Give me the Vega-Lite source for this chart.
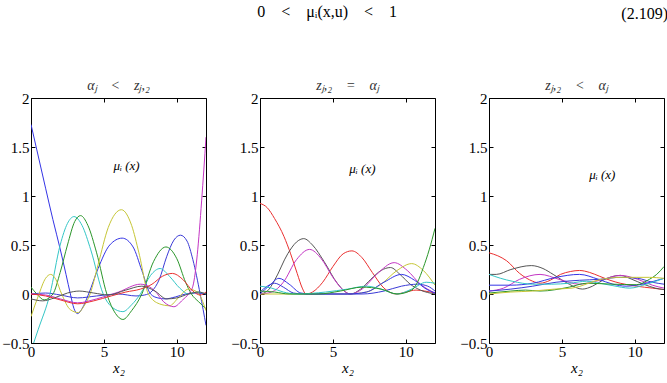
{
  "$schema": "https://vega.github.io/schema/vega-lite/v6.json",
  "background": "white",
  "padding": {"left": 1, "top": 3, "right": 1, "bottom": 2},
  "config": {
    "font": "Liberation Serif",
    "view": {"stroke": "#000", "strokeWidth": 1},
    "axis": {
      "domain": false, "grid": false, "tickSize": -4, "tickColor": "#000", "tickWidth": 1,
      "labelFont": "Liberation Serif", "labelFontSize": 15, "labelColor": "#000",
      "labelFlush": false, "labelOverlap": false, "labelPadding": 6,
      "titleFont": "Liberation Serif", "titleFontSize": 15, "titleFontStyle": "italic",
      "titleFontWeight": "normal", "titleColor": "#000", "titlePadding": 1
    },
    "axisX": {"labelPadding": 5},
    "title": {"font": "Liberation Serif", "fontSize": 14, "fontWeight": "normal", "fontStyle": "italic", "color": "#333", "offset": -2}
  },
  "datasets": {
    "p1": [
      {"c":"b","x":0,"y":1.73},{"c":"b","x":0.4,"y":1.47},{"c":"b","x":1,"y":1.08},{"c":"b","x":1.5,"y":0.76},{"c":"b","x":2,"y":0.46},{"c":"b","x":2.4,"y":0.2},{"c":"b","x":2.7,"y":0.0},{"c":"b","x":2.95,"y":-0.15},{"c":"b","x":3.2,"y":-0.2},{"c":"b","x":3.5,"y":-0.15},{"c":"b","x":3.95,"y":0.0},{"c":"b","x":4.6,"y":0.26},{"c":"b","x":5.4,"y":0.5},{"c":"b","x":6.25,"y":0.57},{"c":"b","x":7.0,"y":0.48},{"c":"b","x":7.6,"y":0.24},{"c":"b","x":8.2,"y":0.0},{"c":"b","x":8.7,"y":-0.04},{"c":"b","x":9.2,"y":-0.05},{"c":"b","x":9.9,"y":-0.03},{"c":"b","x":10.6,"y":0.0},{"c":"b","x":11.3,"y":0.01},{"c":"b","x":12,"y":0.0},
      {"c":"b2","x":0,"y":0.0},{"c":"b2","x":1,"y":0.01},{"c":"b2","x":2,"y":-0.01},{"c":"b2","x":3.2,"y":-0.04},{"c":"b2","x":4.5,"y":-0.02},{"c":"b2","x":6,"y":0.0},{"c":"b2","x":7.2,"y":-0.02},{"c":"b2","x":7.8,"y":-0.01},{"c":"b2","x":8.3,"y":0.03},{"c":"b2","x":8.8,"y":0.15},{"c":"b2","x":9.3,"y":0.38},{"c":"b2","x":9.8,"y":0.55},{"c":"b2","x":10.25,"y":0.6},{"c":"b2","x":10.7,"y":0.54},{"c":"b2","x":11.1,"y":0.35},{"c":"b2","x":11.6,"y":0.0},{"c":"b2","x":12,"y":-0.32},
      {"c":"c","x":0,"y":-0.58},{"c":"c","x":0.5,"y":-0.36},{"c":"c","x":1.3,"y":0.0},{"c":"c","x":2.0,"y":0.5},{"c":"c","x":2.5,"y":0.72},{"c":"c","x":2.95,"y":0.79},{"c":"c","x":3.5,"y":0.7},{"c":"c","x":4.1,"y":0.45},{"c":"c","x":4.95,"y":0.0},{"c":"c","x":5.6,"y":-0.14},{"c":"c","x":6.3,"y":-0.18},{"c":"c","x":6.9,"y":-0.11},{"c":"c","x":7.5,"y":0.0},{"c":"c","x":8.2,"y":0.19},{"c":"c","x":8.85,"y":0.26},{"c":"c","x":9.5,"y":0.18},{"c":"c","x":10.2,"y":0.06},{"c":"c","x":10.8,"y":0.0},{"c":"c","x":11.4,"y":0.02},{"c":"c","x":12,"y":0.0},
      {"c":"g","x":0,"y":0.07},{"c":"g","x":0.4,"y":0.0},{"c":"g","x":0.9,"y":-0.06},{"c":"g","x":1.5,"y":0.0},{"c":"g","x":2.0,"y":0.22},{"c":"g","x":2.5,"y":0.5},{"c":"g","x":3.0,"y":0.74},{"c":"g","x":3.4,"y":0.8},{"c":"g","x":3.9,"y":0.7},{"c":"g","x":4.5,"y":0.42},{"c":"g","x":5.2,"y":0.0},{"c":"g","x":5.8,"y":-0.2},{"c":"g","x":6.3,"y":-0.26},{"c":"g","x":6.9,"y":-0.17},{"c":"g","x":7.6,"y":0.0},{"c":"g","x":8.4,"y":0.33},{"c":"g","x":9.25,"y":0.48},{"c":"g","x":10.0,"y":0.36},{"c":"g","x":10.6,"y":0.12},{"c":"g","x":11.0,"y":0.0},{"c":"g","x":11.5,"y":-0.08},{"c":"g","x":12,"y":-0.15},
      {"c":"y","x":0,"y":-0.23},{"c":"y","x":0.5,"y":-0.02},{"c":"y","x":1.0,"y":0.16},{"c":"y","x":1.35,"y":0.2},{"c":"y","x":1.7,"y":0.15},{"c":"y","x":2.1,"y":0.0},{"c":"y","x":2.7,"y":-0.16},{"c":"y","x":3.25,"y":-0.19},{"c":"y","x":3.6,"y":-0.13},{"c":"y","x":4.05,"y":0.0},{"c":"y","x":4.6,"y":0.3},{"c":"y","x":5.3,"y":0.68},{"c":"y","x":6.2,"y":0.86},{"c":"y","x":6.9,"y":0.7},{"c":"y","x":7.4,"y":0.42},{"c":"y","x":8.05,"y":0.0},{"c":"y","x":8.8,"y":-0.1},{"c":"y","x":9.5,"y":-0.12},{"c":"y","x":10.1,"y":-0.04},{"c":"y","x":10.8,"y":0.05},{"c":"y","x":11.4,"y":0.02},{"c":"y","x":12,"y":-0.17},
      {"c":"m","x":0,"y":0.0},{"c":"m","x":1,"y":-0.01},{"c":"m","x":2,"y":-0.05},{"c":"m","x":3.2,"y":-0.09},{"c":"m","x":4.5,"y":-0.05},{"c":"m","x":6,"y":0.02},{"c":"m","x":7.5,"y":0.1},{"c":"m","x":8.5,"y":0.03},{"c":"m","x":9.1,"y":-0.08},{"c":"m","x":9.8,"y":-0.13},{"c":"m","x":10.4,"y":-0.06},{"c":"m","x":10.8,"y":0.0},{"c":"m","x":11.1,"y":0.08},{"c":"m","x":11.4,"y":0.4},{"c":"m","x":11.7,"y":0.95},{"c":"m","x":12,"y":1.6},
      {"c":"r","x":0,"y":0.0},{"c":"r","x":1,"y":-0.02},{"c":"r","x":2,"y":-0.06},{"c":"r","x":3.2,"y":-0.1},{"c":"r","x":4.3,"y":-0.07},{"c":"r","x":5.5,"y":-0.02},{"c":"r","x":6.5,"y":0.02},{"c":"r","x":7.5,"y":0.05},{"c":"r","x":8.3,"y":0.1},{"c":"r","x":9.0,"y":0.18},{"c":"r","x":9.7,"y":0.21},{"c":"r","x":10.4,"y":0.15},{"c":"r","x":11.1,"y":0.03},{"c":"r","x":11.6,"y":-0.01},{"c":"r","x":12,"y":0.02},
      {"c":"k","x":0,"y":-0.05},{"c":"k","x":0.8,"y":-0.07},{"c":"k","x":1.6,"y":-0.04},{"c":"k","x":2.5,"y":0.01},{"c":"k","x":3.3,"y":0.03},{"c":"k","x":4.3,"y":0.01},{"c":"k","x":5.3,"y":-0.01},{"c":"k","x":6.5,"y":0.04},{"c":"k","x":7.6,"y":0.08},{"c":"k","x":8.5,"y":0.03},{"c":"k","x":9.3,"y":-0.05},{"c":"k","x":10,"y":-0.04},{"c":"k","x":10.8,"y":0.0},{"c":"k","x":11.5,"y":0.02},{"c":"k","x":12,"y":0.0}
    ],
    "p2": [
      {"c":"r","x":0,"y":0.925},{"c":"r","x":0.5,"y":0.88},{"c":"r","x":1.0,"y":0.77},{"c":"r","x":1.65,"y":0.585},{"c":"r","x":2.1,"y":0.41},{"c":"r","x":2.55,"y":0.21},{"c":"r","x":2.9,"y":0.06},{"c":"r","x":3.15,"y":0.0},{"c":"r","x":3.6,"y":0.02},{"c":"r","x":4.3,"y":0.12},{"c":"r","x":5.0,"y":0.28},{"c":"r","x":5.7,"y":0.41},{"c":"r","x":6.3,"y":0.44},{"c":"r","x":7.0,"y":0.37},{"c":"r","x":7.7,"y":0.22},{"c":"r","x":8.5,"y":0.06},{"c":"r","x":9.35,"y":0.0},{"c":"r","x":10.0,"y":0.02},{"c":"r","x":10.7,"y":0.04},{"c":"r","x":11.3,"y":0.03},{"c":"r","x":12,"y":0.01},
      {"c":"k","x":0,"y":0.0},{"c":"k","x":0.5,"y":0.03},{"c":"k","x":1.0,"y":0.14},{"c":"k","x":1.9,"y":0.41},{"c":"k","x":2.5,"y":0.53},{"c":"k","x":3.0,"y":0.565},{"c":"k","x":3.6,"y":0.5},{"c":"k","x":4.4,"y":0.33},{"c":"k","x":5.3,"y":0.11},{"c":"k","x":6.2,"y":0.0},{"c":"k","x":6.9,"y":0.05},{"c":"k","x":7.6,"y":0.15},{"c":"k","x":8.3,"y":0.24},{"c":"k","x":8.95,"y":0.27},{"c":"k","x":9.6,"y":0.2},{"c":"k","x":10.3,"y":0.1},{"c":"k","x":11.0,"y":0.04},{"c":"k","x":12,"y":0.0},
      {"c":"m","x":0,"y":0.0},{"c":"m","x":0.8,"y":0.02},{"c":"m","x":1.6,"y":0.12},{"c":"m","x":2.5,"y":0.35},{"c":"m","x":3.4,"y":0.455},{"c":"m","x":4.2,"y":0.36},{"c":"m","x":5.0,"y":0.17},{"c":"m","x":5.7,"y":0.04},{"c":"m","x":6.2,"y":0.0},{"c":"m","x":7.0,"y":0.05},{"c":"m","x":8.0,"y":0.2},{"c":"m","x":9.2,"y":0.32},{"c":"m","x":10.1,"y":0.24},{"c":"m","x":11.0,"y":0.1},{"c":"m","x":12,"y":0.01},
      {"c":"y","x":0,"y":0.0},{"c":"y","x":3,"y":0.0},{"c":"y","x":6,"y":0.0},{"c":"y","x":7.3,"y":0.02},{"c":"y","x":8.3,"y":0.1},{"c":"y","x":9.4,"y":0.24},{"c":"y","x":10.4,"y":0.31},{"c":"y","x":11.2,"y":0.24},{"c":"y","x":12,"y":0.09},
      {"c":"b","x":0,"y":0.0},{"c":"b","x":0.6,"y":0.08},{"c":"b","x":1.3,"y":0.16},{"c":"b","x":2.0,"y":0.1},{"c":"b","x":2.8,"y":0.01},{"c":"b","x":3.5,"y":0.0},{"c":"b","x":6,"y":0.0},{"c":"b","x":7.3,"y":0.02},{"c":"b","x":8.5,"y":0.12},{"c":"b","x":9.7,"y":0.2},{"c":"b","x":10.6,"y":0.14},{"c":"b","x":11.4,"y":0.05},{"c":"b","x":12,"y":0.01},
      {"c":"b2","x":0,"y":0.02},{"c":"b2","x":0.5,"y":0.08},{"c":"b2","x":1.0,"y":0.11},{"c":"b2","x":1.6,"y":0.07},{"c":"b2","x":2.3,"y":0.01},{"c":"b2","x":3,"y":0.0},{"c":"b2","x":7,"y":0.0},{"c":"b2","x":8.5,"y":0.03},{"c":"b2","x":9.7,"y":0.08},{"c":"b2","x":10.8,"y":0.1},{"c":"b2","x":11.5,"y":0.08},{"c":"b2","x":12,"y":0.03},
      {"c":"c","x":0,"y":0.08},{"c":"c","x":0.8,"y":0.06},{"c":"c","x":1.6,"y":0.02},{"c":"c","x":2.5,"y":0.0},{"c":"c","x":4.5,"y":0.02},{"c":"c","x":6,"y":0.05},{"c":"c","x":7.3,"y":0.08},{"c":"c","x":8.3,"y":0.05},{"c":"c","x":9.4,"y":0.0},{"c":"c","x":10.4,"y":0.05},{"c":"c","x":11.4,"y":0.12},{"c":"c","x":12,"y":0.11},
      {"c":"g","x":0,"y":0.03},{"c":"g","x":1,"y":0.02},{"c":"g","x":2,"y":0.0},{"c":"g","x":4,"y":0.0},{"c":"g","x":5.5,"y":0.03},{"c":"g","x":7,"y":0.07},{"c":"g","x":8.3,"y":0.05},{"c":"g","x":9.4,"y":0.0},{"c":"g","x":10.4,"y":0.04},{"c":"g","x":10.8,"y":0.12},{"c":"g","x":11.2,"y":0.27},{"c":"g","x":11.6,"y":0.45},{"c":"g","x":12,"y":0.67}
    ],
    "p3": [
      {"c":"r","x":0,"y":0.42},{"c":"r","x":0.6,"y":0.39},{"c":"r","x":1.2,"y":0.34},{"c":"r","x":2.1,"y":0.21},{"c":"r","x":3.0,"y":0.13},{"c":"r","x":3.5,"y":0.11},{"c":"r","x":4.2,"y":0.14},{"c":"r","x":4.9,"y":0.2},{"c":"r","x":5.6,"y":0.23},{"c":"r","x":6.2,"y":0.24},{"c":"r","x":6.9,"y":0.22},{"c":"r","x":7.6,"y":0.18},{"c":"r","x":8.3,"y":0.14},{"c":"r","x":9.0,"y":0.11},{"c":"r","x":10.1,"y":0.08},{"c":"r","x":11.2,"y":0.06},{"c":"r","x":12,"y":0.045},
      {"c":"k","x":0,"y":0.2},{"c":"k","x":0.5,"y":0.2},{"c":"k","x":1.5,"y":0.25},{"c":"k","x":2.9,"y":0.29},{"c":"k","x":3.7,"y":0.26},{"c":"k","x":4.4,"y":0.2},{"c":"k","x":5.5,"y":0.1},{"c":"k","x":6.4,"y":0.05},{"c":"k","x":7.1,"y":0.08},{"c":"k","x":7.8,"y":0.14},{"c":"k","x":9.0,"y":0.19},{"c":"k","x":9.8,"y":0.15},{"c":"k","x":10.6,"y":0.1},{"c":"k","x":11.4,"y":0.06},{"c":"k","x":12,"y":0.045},
      {"c":"m","x":0,"y":0.03},{"c":"m","x":1,"y":0.06},{"c":"m","x":2.1,"y":0.15},{"c":"m","x":3.5,"y":0.2},{"c":"m","x":4.8,"y":0.15},{"c":"m","x":6.2,"y":0.1},{"c":"m","x":7.6,"y":0.14},{"c":"m","x":9.0,"y":0.19},{"c":"m","x":10.2,"y":0.15},{"c":"m","x":11.2,"y":0.09},{"c":"m","x":12,"y":0.06},
      {"c":"b","x":0,"y":0.09},{"c":"b","x":1.5,"y":0.09},{"c":"b","x":3.0,"y":0.11},{"c":"b","x":4.6,"y":0.17},{"c":"b","x":6.2,"y":0.2},{"c":"b","x":7.5,"y":0.15},{"c":"b","x":8.5,"y":0.1},{"c":"b","x":9.4,"y":0.08},{"c":"b","x":10.5,"y":0.1},{"c":"b","x":11.3,"y":0.13},{"c":"b","x":12,"y":0.16},
      {"c":"b2","x":0,"y":0.03},{"c":"b2","x":1.5,"y":0.05},{"c":"b2","x":3.0,"y":0.08},{"c":"b2","x":4.6,"y":0.12},{"c":"b2","x":6.2,"y":0.14},{"c":"b2","x":7.6,"y":0.15},{"c":"b2","x":9.0,"y":0.17},{"c":"b2","x":10.2,"y":0.16},{"c":"b2","x":11.2,"y":0.12},{"c":"b2","x":12,"y":0.1},
      {"c":"c","x":0,"y":0.2},{"c":"c","x":0.8,"y":0.16},{"c":"c","x":1.6,"y":0.13},{"c":"c","x":3.0,"y":0.1},{"c":"c","x":4.3,"y":0.1},{"c":"c","x":5.5,"y":0.11},{"c":"c","x":6.7,"y":0.13},{"c":"c","x":7.6,"y":0.11},{"c":"c","x":8.5,"y":0.085},{"c":"c","x":9.65,"y":0.06},{"c":"c","x":10.8,"y":0.1},{"c":"c","x":12,"y":0.16},
      {"c":"g","x":0,"y":0.01},{"c":"g","x":1.5,"y":0.03},{"c":"g","x":2.5,"y":0.04},{"c":"g","x":3.5,"y":0.03},{"c":"g","x":5.5,"y":0.07},{"c":"g","x":6.7,"y":0.11},{"c":"g","x":8.5,"y":0.1},{"c":"g","x":10.1,"y":0.095},{"c":"g","x":11.0,"y":0.15},{"c":"g","x":11.5,"y":0.2},{"c":"g","x":12,"y":0.28},
      {"c":"y","x":0,"y":0.0},{"c":"y","x":1.5,"y":0.02},{"c":"y","x":3.0,"y":0.03},{"c":"y","x":4.5,"y":0.05},{"c":"y","x":5.7,"y":0.06},{"c":"y","x":7.7,"y":0.15},{"c":"y","x":9.0,"y":0.17},{"c":"y","x":10.1,"y":0.17},{"c":"y","x":11,"y":0.17},{"c":"y","x":12,"y":0.16}
    ]
  },
  "title": {"text": "(2.109)", "anchor": "end", "frame": "bounds", "fontSize": 16, "fontStyle": "normal", "color": "#000", "offset": -18, "dx": 3},
  "bounds": "flush",
  "vconcat": [
    {
      "title": {"text": "0\u2003<\u2003μᵢ(x,u)\u2003<\u20031", "anchor": "middle", "frame": "bounds", "fontSize": 16, "fontStyle": "normal", "color": "#000", "offset": 59, "dx": -6},
      "bounds": "flush",
      "spacing": 54,
      "hconcat": [
        {
          "width": 175, "height": 245,
          "title": {"text": "α\u2C7C\u2003<\u2003z\u2C7C,\u2082"},
          "layer": [
            {
              "data": {"name": "p1"},
              "mark": {"type": "line", "strokeWidth": 1, "clip": true, "interpolate": "monotone"},
              "encoding": {
                "x": {"field": "x", "type": "quantitative", "scale": {"domain": [0, 12], "nice": false, "zero": false}, "axis": {"values": [0, 5, 10], "format": "~r", "title": "x\u2082"}},
                "y": {"field": "y", "type": "quantitative", "scale": {"domain": [-0.5, 2], "nice": false, "zero": false}, "axis": {"values": [-0.5, 0, 0.5, 1, 1.5, 2], "format": "~r", "title": null}},
                "color": {"field": "c", "type": "nominal", "legend": null, "scale": {"domain": ["b", "g", "r", "c", "m", "y", "k", "b2"], "range": ["#3434e6", "#2a962a", "#ea3030", "#33c6c6", "#c436c4", "#c6c636", "#555555", "#3a3ad6"]}}
              }
            },
            {
              "data": {"values": [{"x": 5.65, "y": 1.31, "t": "μᵢ (x)"}]},
              "mark": {"type": "text", "align": "left", "baseline": "middle", "fontSize": 13, "fontStyle": "italic", "font": "Liberation Serif", "color": "#000"},
              "encoding": {
                "x": {"field": "x", "type": "quantitative", "scale": {"domain": [0, 12], "nice": false, "zero": false}, "axis": {"orient": "top", "values": [0, 5, 10], "labels": false, "title": null}},
                "y": {"field": "y", "type": "quantitative", "scale": {"domain": [-0.5, 2], "nice": false, "zero": false}, "axis": {"orient": "right", "values": [-0.5, 0, 0.5, 1, 1.5, 2], "labels": false, "title": null}},
                "text": {"field": "t"}
              }
            }
          ],
          "resolve": {"axis": {"x": "independent", "y": "independent"}}
        },
        {
          "width": 175, "height": 245,
          "title": {"text": "z\u2C7C,\u2082\u2003=\u2003α\u2C7C"},
          "layer": [
            {
              "data": {"name": "p2"},
              "mark": {"type": "line", "strokeWidth": 1, "clip": true, "interpolate": "monotone"},
              "encoding": {
                "x": {"field": "x", "type": "quantitative", "scale": {"domain": [0, 12], "nice": false, "zero": false}, "axis": {"values": [0, 5, 10], "format": "~r", "title": "x\u2082"}},
                "y": {"field": "y", "type": "quantitative", "scale": {"domain": [-0.5, 2], "nice": false, "zero": false}, "axis": {"values": [-0.5, 0, 0.5, 1, 1.5, 2], "format": "~r", "title": null}},
                "color": {"field": "c", "type": "nominal", "legend": null, "scale": {"domain": ["b", "g", "r", "c", "m", "y", "k", "b2"], "range": ["#3434e6", "#2a962a", "#ea3030", "#33c6c6", "#c436c4", "#c6c636", "#555555", "#3a3ad6"]}}
              }
            },
            {
              "data": {"values": [{"x": 6.12, "y": 1.28, "t": "μᵢ (x)"}]},
              "mark": {"type": "text", "align": "left", "baseline": "middle", "fontSize": 13, "fontStyle": "italic", "font": "Liberation Serif", "color": "#000"},
              "encoding": {
                "x": {"field": "x", "type": "quantitative", "scale": {"domain": [0, 12], "nice": false, "zero": false}, "axis": {"orient": "top", "values": [0, 5, 10], "labels": false, "title": null}},
                "y": {"field": "y", "type": "quantitative", "scale": {"domain": [-0.5, 2], "nice": false, "zero": false}, "axis": {"orient": "right", "values": [-0.5, 0, 0.5, 1, 1.5, 2], "labels": false, "title": null}},
                "text": {"field": "t"}
              }
            }
          ],
          "resolve": {"axis": {"x": "independent", "y": "independent"}}
        },
        {
          "width": 175, "height": 245,
          "title": {"text": "z\u2C7C,\u2082\u2003<\u2003α\u2C7C"},
          "layer": [
            {
              "data": {"name": "p3"},
              "mark": {"type": "line", "strokeWidth": 1, "clip": true, "interpolate": "monotone"},
              "encoding": {
                "x": {"field": "x", "type": "quantitative", "scale": {"domain": [0, 12], "nice": false, "zero": false}, "axis": {"values": [0, 5, 10], "format": "~r", "title": "x\u2082"}},
                "y": {"field": "y", "type": "quantitative", "scale": {"domain": [-0.5, 2], "nice": false, "zero": false}, "axis": {"values": [-0.5, 0, 0.5, 1, 1.5, 2], "format": "~r", "title": null}},
                "color": {"field": "c", "type": "nominal", "legend": null, "scale": {"domain": ["b", "g", "r", "c", "m", "y", "k", "b2"], "range": ["#3434e6", "#2a962a", "#ea3030", "#33c6c6", "#c436c4", "#c6c636", "#555555", "#3a3ad6"]}}
              }
            },
            {
              "data": {"values": [{"x": 6.87, "y": 1.21, "t": "μᵢ (x)"}]},
              "mark": {"type": "text", "align": "left", "baseline": "middle", "fontSize": 13, "fontStyle": "italic", "font": "Liberation Serif", "color": "#000"},
              "encoding": {
                "x": {"field": "x", "type": "quantitative", "scale": {"domain": [0, 12], "nice": false, "zero": false}, "axis": {"orient": "top", "values": [0, 5, 10], "labels": false, "title": null}},
                "y": {"field": "y", "type": "quantitative", "scale": {"domain": [-0.5, 2], "nice": false, "zero": false}, "axis": {"orient": "right", "values": [-0.5, 0, 0.5, 1, 1.5, 2], "labels": false, "title": null}},
                "text": {"field": "t"}
              }
            }
          ],
          "resolve": {"axis": {"x": "independent", "y": "independent"}}
        }
      ]
    }
  ]
}
